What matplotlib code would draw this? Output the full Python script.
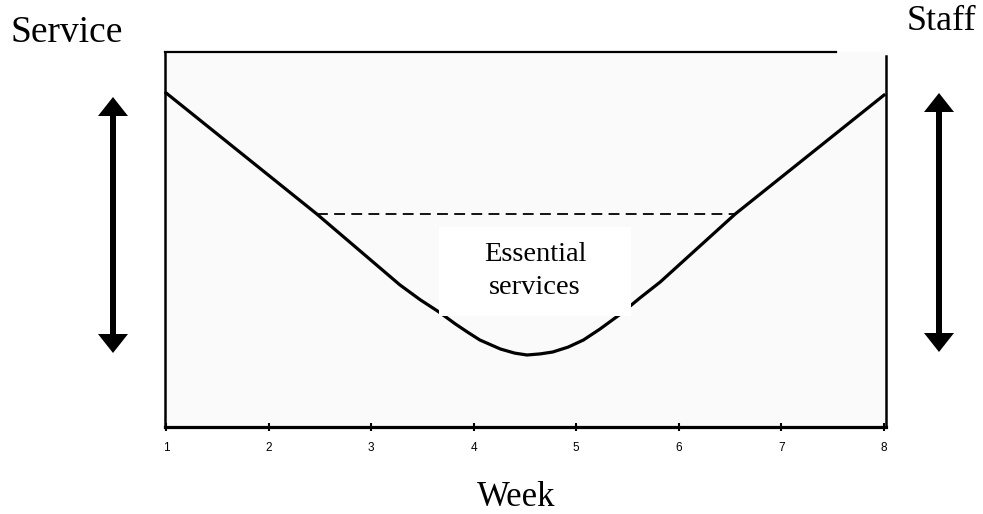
import matplotlib.pyplot as plt
from matplotlib.patches import Rectangle

# week positions and staff/service level
semanas = [1.0, 2.47, 3.28, 3.48, 3.66, 3.82, 3.94, 4.06, 4.26, 4.40, 4.52,
           4.65, 4.77, 4.92, 5.07, 5.23, 5.43, 5.62, 5.82, 6.55, 8.0]
nivel = [8.91, 5.68, 3.79, 3.39, 3.07, 2.75, 2.53, 2.32, 2.08, 1.97, 1.92,
         1.95, 2.00, 2.13, 2.32, 2.61, 3.01, 3.44, 3.87, 5.68, 8.85]

nivel_essencial = 5.68
inicio_essencial = 2.47
fim_essencial = 6.55

ticks_semana = [1, 2, 3, 4, 5, 6, 7, 8]

serif = ['Liberation Serif', 'DejaVu Serif']
sans = ['Liberation Sans', 'DejaVu Sans']

W, H = 983, 514
fig = plt.figure(figsize=(W / 100, H / 100), dpi=100)

ax = fig.add_axes([165 / W, 1 - 427 / H, 721 / W, 375 / H])
ax.set_facecolor('#fafafa')
ax.set_xlim(0.99, 8.02)
ax.set_ylim(0, 10)

ax.plot(semanas, nivel, color='black', lw=2.3, solid_joinstyle='round', clip_on=False)
ax.hlines(nivel_essencial, inicio_essencial, fim_essencial, colors='black',
          linestyles=(0, (6, 3.5)), lw=1.3)

ax.spines['top'].set_visible(False)
ax.spines['left'].set_linewidth(1.8)
ax.spines['right'].set_linewidth(1.8)
ax.spines['right'].set_bounds(0, 9.89)
ax.spines['bottom'].set_linewidth(2.3)
ax.axhline(10, xmin=0, xmax=0.93, color='black', lw=1.6, clip_on=False)

ax.set_xticks(ticks_semana)
ax.set_xticklabels([str(t) for t in ticks_semana], fontfamily=sans, fontsize=8.5)
ax.set_yticks([])
ax.tick_params(axis='x', direction='inout', length=6, width=1.5, pad=8)

# overlay in pixel units for arrows, texts and the label box
deco = fig.add_axes([0, 0, 1, 1])
deco.set_xlim(0, W)
deco.set_ylim(H, 0)
deco.axis('off')
deco.patch.set_alpha(0)

deco.add_patch(Rectangle((439, 227), 192, 89, facecolor='white', edgecolor='none'))
deco.text(535, 271, 'Essential\nservices', fontfamily=serif, fontsize=20.5,
          ha='center', va='center', linespacing=1.45)

for xa, topo, base in [(113, 97, 353), (939, 93, 352)]:
    deco.arrow(xa, base - 19, 0, topo - (base - 19), width=6, head_width=30,
               head_length=19, length_includes_head=True, color='black', lw=0)
    deco.arrow(xa, topo + 19, 0, base - (topo + 19), width=6, head_width=30,
               head_length=19, length_includes_head=True, color='black', lw=0)

deco.text(67, 33, 'Service', fontfamily=serif, fontsize=27, ha='center', va='center')
deco.text(941, 22, 'Staff', fontfamily=serif, fontsize=26, ha='center', va='center')
deco.text(516, 498, 'Week', fontfamily=serif, fontsize=25, ha='center', va='center')

fig.savefig('out.png', dpi=100, facecolor='white')
